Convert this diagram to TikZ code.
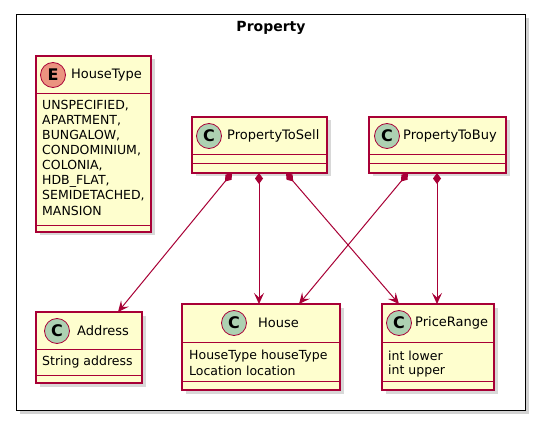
\documentclass[tikz,border=0pt]{standalone}
\usepackage{fontspec}
\setmainfont{DejaVu Sans}
\usetikzlibrary{arrows.meta,shadows,calc}
\definecolor{umlfill}{HTML}{FEFECE}
\definecolor{umlborder}{HTML}{A80036}
\definecolor{cfill}{HTML}{ADD1B2}
\definecolor{efill}{HTML}{EB937F}
\tikzset{
  frame/.style={draw=black, line width=1.3pt, fill=white,
    drop shadow={shadow xshift=3pt, shadow yshift=-3pt, opacity=0.35, fill=gray}},
  classbox/.style={draw=umlborder, line width=1.1pt, fill=umlfill, anchor=north west,
    inner sep=0pt, outer sep=0pt,
    drop shadow={shadow xshift=3.5pt, shadow yshift=-3.5pt, opacity=0.3, fill=gray}},
  sep/.style={draw=umlborder, line width=0.9pt},
  badge/.style={circle, draw=umlborder, line width=0.8pt, minimum size=25pt, inner sep=0pt,
    font=\fontsize{16}{16}\selectfont\bfseries},
  cname/.style={anchor=west, inner sep=0pt, font=\fontsize{13}{13}\selectfont},
  field/.style={anchor=west, inner sep=0pt, font=\fontsize{12.5}{12.5}\selectfont},
  rel/.style={draw=umlborder, line width=1pt,
    {Diamond[length=11pt,width=8pt,fill=umlborder]}-{Stealth[length=11pt,width=10pt,inset=4.5pt,fill=umlborder]}},
}
\begin{document}
\begin{tikzpicture}[x=1pt,y=-1pt]
\useasboundingbox (0,0) rectangle (542,428);
\fill[white] (0,0) rectangle (542,428);
% frame
\node[frame, anchor=north west, minimum width=509pt, minimum height=396pt, inner sep=0pt] (pkg) at (16,14) {};
\node[font=\fontsize{14}{14}\selectfont\bfseries] (pkgtitle) at (271,28) {Property};

% HouseType
\node[classbox, minimum width=115pt, minimum height=176pt] (ht) at (36,56) {};
\draw[sep] (36,93) -- (151,93);
\draw[sep] (36,225) -- (151,225);
\node[badge, fill=efill] (htb) at (53,75) {E};
\node[cname] (htn) at (71,75) {HouseType};
\node[field] (h1) at (42,106) {UNSPECIFIED,};
\node[field] (h2) at (42,121) {APARTMENT,};
\node[field] (h3) at (42,136) {BUNGALOW,};
\node[field] (h4) at (42,151) {CONDOMINIUM,};
\node[field] (h5) at (42,166) {COLONIA,};
\node[field] (h6) at (42,181) {HDB\_FLAT,};
\node[field] (h7) at (42,196) {SEMIDETACHED,};
\node[field] (h8) at (42,211) {MANSION};

% PropertyToSell
\node[classbox, minimum width=135pt, minimum height=56pt] (sell) at (192,117) {};
\draw[sep] (192,154) -- (327,154);
\draw[sep] (192,163.5) -- (327,163.5);
\node[badge, fill=cfill] (sellb) at (209,136) {C};
\node[cname] (selln) at (227,136) {PropertyToSell};

% PropertyToBuy
\node[classbox, minimum width=137pt, minimum height=56pt] (buy) at (369,117) {};
\draw[sep] (369,154) -- (506,154);
\draw[sep] (369,163.5) -- (506,163.5);
\node[badge, fill=cfill] (buyb) at (387,136) {C};
\node[cname] (buyn) at (403,136) {PropertyToBuy};

% Address
\node[classbox, minimum width=106pt, minimum height=71pt] (addr) at (36,312) {};
\draw[sep] (36,349) -- (142,349);
\draw[sep] (36,375) -- (142,375);
\node[badge, fill=cfill] (addrb) at (57,331) {C};
\node[cname] (addrn) at (77,331) {Address};
\node[field] (addrf) at (42,362) {String address};

% House
\node[classbox, minimum width=158pt, minimum height=86pt] (house) at (182,304) {};
\draw[sep] (182,342) -- (340,342);
\draw[sep] (182,381) -- (340,381);
\node[badge, fill=cfill] (houseb) at (234,323) {C};
\node[cname] (housen) at (258,323) {House};
\node[field] (housef1) at (189,356) {HouseType houseType};
\node[field] (housef2) at (189,371) {Location location};

% PriceRange
\node[classbox, minimum width=112pt, minimum height=86pt] (price) at (382,304) {};
\draw[sep] (382,342) -- (494,342);
\draw[sep] (382,381) -- (494,381);
\node[badge, fill=cfill] (priceb) at (399,323) {C};
\node[cname] (pricen) at (415,323) {PriceRange};
\node[field] (pricef1) at (388,356) {int lower};
\node[field] (pricef2) at (388,371) {int upper};

% connectors
\draw[rel] ($(sell.south west)+(40,0)$) -- ($(addr.north west)+(82,0)$);
\draw[rel] ($(sell.south west)+(67,0)$) -- ($(house.north west)+(77,0)$);
\draw[rel] ($(sell.south west)+(94,0)$) -- ($(price.north west)+(17,0)$);
\draw[rel] ($(buy.south west)+(39,0)$) -- ($(house.north west)+(117,0)$);
\draw[rel] ($(buy.south west)+(68,0)$) -- ($(price.north west)+(55,0)$);
\end{tikzpicture}
\end{document}
